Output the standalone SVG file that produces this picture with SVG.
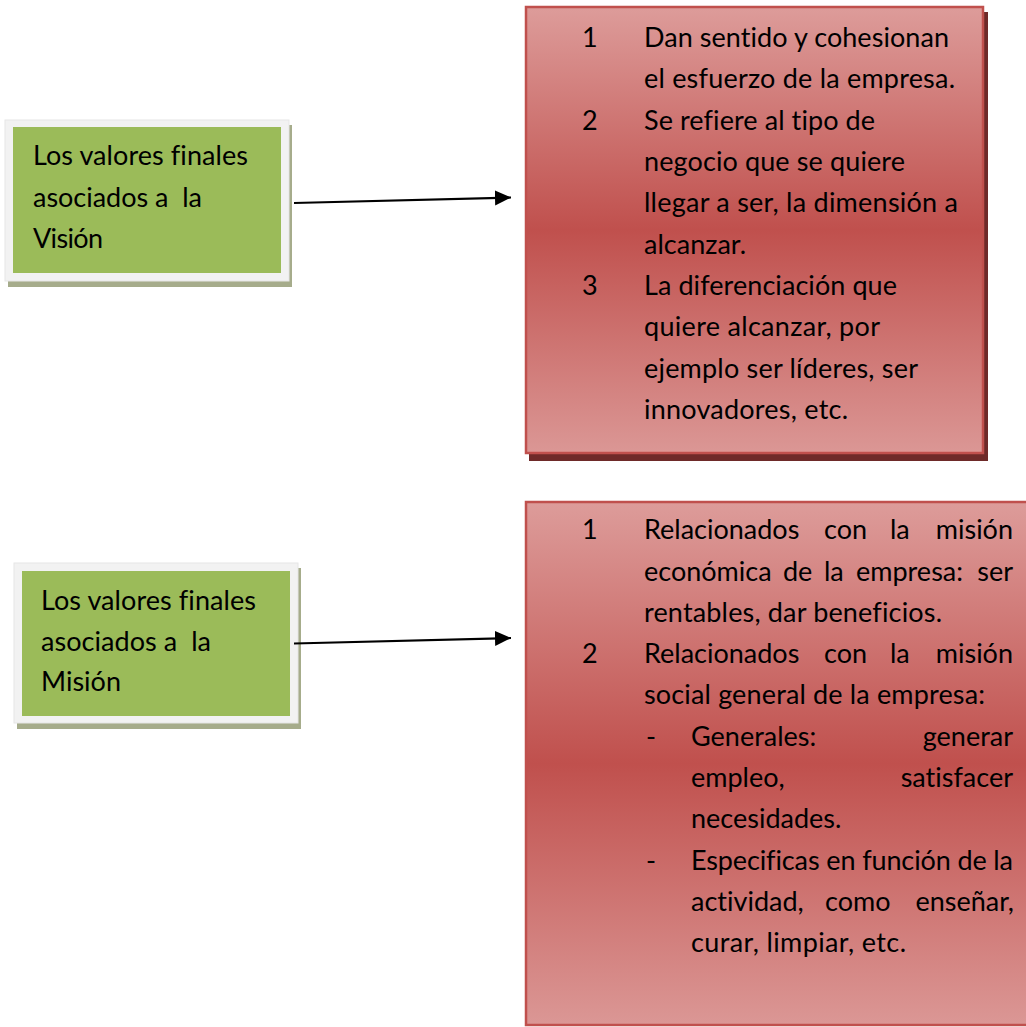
<svg xmlns="http://www.w3.org/2000/svg" width="1026" height="1027" viewBox="0 0 1026 1027">
<style>
  .t { font-family: Lato, "Open Sans", "Liberation Sans", sans-serif; font-size: 27px; fill: #000; font-variant-ligatures: none; }
  .frame { fill: #f2f2f2; stroke: #e6e6e6; stroke-width: 1; }
  .green { fill: #9bbb59; }
  .gshadow { fill: #a6ac8b; }
  .red { fill: url(#redGrad); stroke: #c0504d; stroke-width: 2.5; }
  .rshadow { fill: #6e2a29; }
  .conn { stroke: #000; stroke-width: 2.2; fill: none; marker-end: url(#arrow); }
</style>
<defs>
  <linearGradient id="redGrad" x1="0" y1="0" x2="0" y2="1">
    <stop offset="0" stop-color="#dd9c9a"/>
    <stop offset="0.5" stop-color="#c0504d"/>
    <stop offset="1" stop-color="#db9795"/>
  </linearGradient>
  <marker id="arrow" markerUnits="userSpaceOnUse" markerWidth="18" markerHeight="16" refX="16" refY="7.5" orient="auto">
    <path d="M0,0 L16,7.5 L0,15 Z" fill="#000"/>
  </marker>
</defs>
<rect x="0" y="0" width="1026" height="1027" fill="#fff"/>

<g id="node-vision">
  <rect class="gshadow" x="8" y="125" width="284" height="162"/>
  <rect class="frame" x="5" y="120" width="284" height="161"/>
  <rect class="green" x="13" y="127" width="268" height="146"/>
  <text class="t" x="33" y="165" textLength="215" lengthAdjust="spacing">Los valores finales</text>
  <text class="t" x="33" y="206.5" textLength="169" lengthAdjust="spacing" xml:space="preserve">asociados a  la</text>
  <text class="t" x="33" y="247.5" textLength="70" lengthAdjust="spacing">Visión</text>
</g>

<g id="node-mision">
  <rect class="gshadow" x="17" y="568" width="284" height="161"/>
  <rect class="frame" x="14" y="563" width="284" height="160"/>
  <rect class="green" x="22" y="571" width="268" height="145"/>
  <text class="t" x="41" y="610" textLength="215" lengthAdjust="spacing">Los valores finales</text>
  <text class="t" x="41" y="650.5" textLength="170" lengthAdjust="spacing" xml:space="preserve">asociados a  la</text>
  <text class="t" x="41" y="690.5" textLength="80" lengthAdjust="spacing">Misión</text>
</g>

<g id="node-vision-values">
  <rect class="rshadow" x="529" y="12" width="459" height="449"/>
  <rect class="red" x="526" y="7" width="457" height="446"/>
  <text class="t" x="582" y="46.5">1</text>
  <text class="t" x="644" y="46.5" textLength="305" lengthAdjust="spacing">Dan sentido y cohesionan</text>
  <text class="t" x="644" y="88" textLength="311" lengthAdjust="spacing">el esfuerzo de la empresa.</text>
  <text class="t" x="582" y="129.5">2</text>
  <text class="t" x="644" y="129.5" textLength="231" lengthAdjust="spacing">Se refiere al tipo de</text>
  <text class="t" x="644" y="171" textLength="261" lengthAdjust="spacing">negocio que se quiere</text>
  <text class="t" x="644" y="212" textLength="314" lengthAdjust="spacing">llegar a ser, la dimensión a</text>
  <text class="t" x="644" y="253.5" textLength="102" lengthAdjust="spacing">alcanzar.</text>
  <text class="t" x="582" y="295">3</text>
  <text class="t" x="644" y="295" textLength="253" lengthAdjust="spacing">La diferenciación que</text>
  <text class="t" x="644" y="336" textLength="236" lengthAdjust="spacing">quiere alcanzar, por</text>
  <text class="t" x="644" y="377.5" textLength="274" lengthAdjust="spacing">ejemplo ser líderes, ser</text>
  <text class="t" x="644" y="418.5" textLength="204" lengthAdjust="spacing">innovadores, etc.</text>
</g>

<g id="node-mision-values">
  <rect class="red" x="526" y="502" width="510" height="523"/>
  <text class="t" x="582" y="539">1</text>
  <text class="t" x="644" y="539">Relacionados</text>
  <text class="t" x="824" y="539">con</text>
  <text class="t" x="890" y="539">la</text>
  <text class="t" x="1013" y="539" text-anchor="end">misión</text>
  <text class="t" x="644" y="580.5">económica</text>
  <text class="t" x="783" y="580.5">de</text>
  <text class="t" x="824" y="580.5">la</text>
  <text class="t" x="856" y="580.5">empresa:</text>
  <text class="t" x="1013" y="580.5" text-anchor="end">ser</text>
  <text class="t" x="644" y="621.5" textLength="298" lengthAdjust="spacing">rentables, dar beneficios.</text>
  <text class="t" x="582" y="663">2</text>
  <text class="t" x="644" y="663">Relacionados</text>
  <text class="t" x="824" y="663">con</text>
  <text class="t" x="890" y="663">la</text>
  <text class="t" x="1013" y="663" text-anchor="end">misión</text>
  <text class="t" x="644" y="704" textLength="341" lengthAdjust="spacing">social general de la empresa:</text>
  <text class="t" x="646" y="745.5">-</text>
  <text class="t" x="691" y="745.5">Generales:</text>
  <text class="t" x="1013" y="745.5" text-anchor="end">generar</text>
  <text class="t" x="691" y="787">empleo,</text>
  <text class="t" x="1013" y="787" text-anchor="end">satisfacer</text>
  <text class="t" x="691" y="828">necesidades.</text>
  <text class="t" x="646" y="869.5">-</text>
  <text class="t" x="691" y="869.5" textLength="322" lengthAdjust="spacing">Especificas en función de la</text>
  <text class="t" x="691" y="911">actividad,</text>
  <text class="t" x="825" y="911">como</text>
  <text class="t" x="1014" y="911" text-anchor="end">enseñar,</text>
  <text class="t" x="691" y="952" textLength="215" lengthAdjust="spacing">curar, limpiar, etc.</text>
</g>

<g id="connectors">
  <line class="conn" x1="294" y1="203" x2="511" y2="197.5"/>
  <line class="conn" x1="294" y1="643.5" x2="511" y2="638"/>
</g>
</svg>
